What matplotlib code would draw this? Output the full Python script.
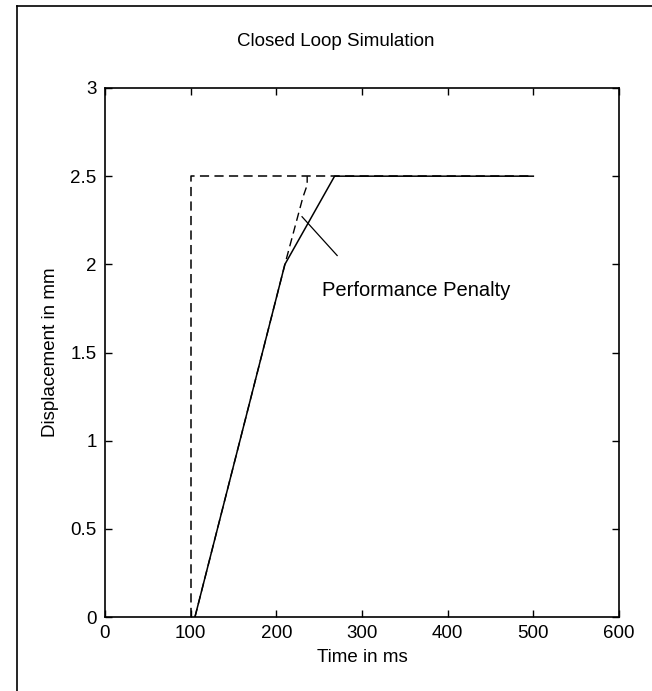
import numpy as np
import matplotlib.pyplot as plt
from matplotlib.lines import Line2D

#==============================
#            DATA
#==============================
# reference step input (dashed)
t_ref = [100, 100, 500]
y_ref = [0.0, 2.5, 2.5]
# ideal response, no penalty (dashed)
t_ideal = [105, 210, 231, 236, 236]
y_ideal = [0.0, 2.0, 2.38, 2.45, 2.5]
# closed loop response (solid)
t_sim = [105, 210, 268, 500]
y_sim = [0.0, 2.0, 2.5, 2.5]

xticks = [0, 100, 200, 300, 400, 500, 600]
yticks = [0, 0.5, 1, 1.5, 2, 2.5, 3]

#==============================
#            PLOT
#==============================
plt.rcParams['font.family'] = ['Liberation Sans', 'DejaVu Sans']
W, H = 652, 691
fig = plt.figure(figsize=(W/100.0, H/100.0), dpi=100)
ax = fig.add_axes([105.0/W, 1-617.0/H, (619.0-105)/W, (617.0-88)/H])

ax.plot(t_ref, y_ref, 'k--', lw=1.1, dashes=(6, 3.5))
ax.plot(t_ideal, y_ideal, 'k--', lw=1.0, dashes=(6, 3.5))
ax.plot(t_sim, y_sim, 'k-', lw=1.1)

ax.annotate("Performance Penalty", xy=(230, 2.27), xytext=(253, 1.85),
            fontsize=14.5, va='center', ha='left')
ax.plot([230, 271], [2.27, 2.05], 'k-', lw=0.9)

ax.set_xlim(0, 600)
ax.set_ylim(0, 3)
ax.set_xticks(xticks)
ax.set_yticks(yticks)
ax.set_xticklabels([str(v) for v in xticks])
ax.set_yticklabels(['0', '0.5', '1', '1.5', '2', '2.5', '3'])
ax.tick_params(direction='in', length=5, width=1, top=True, right=True,
               labelsize=13.5, pad=6)
for s in ax.spines.values():
    s.set_linewidth(1.2)
ax.set_xlabel("Time in ms", fontsize=13.5, labelpad=5)
ax.set_ylabel("Displacement in mm", fontsize=13.5, labelpad=8)

fig.text(336.0/W, 1-41.0/H, "Closed Loop Simulation",
         ha='center', va='center', fontsize=13.5)

# outer frame of the figure
fig.add_artist(Line2D([17.0/W, 17.0/W], [0, 1-6.0/H], color='k', lw=1.2,
                      transform=fig.transFigure))
fig.add_artist(Line2D([17.0/W, 1], [1-6.0/H, 1-6.0/H], color='k', lw=1.2,
                      transform=fig.transFigure))

fig.savefig("out.png", dpi=100)
